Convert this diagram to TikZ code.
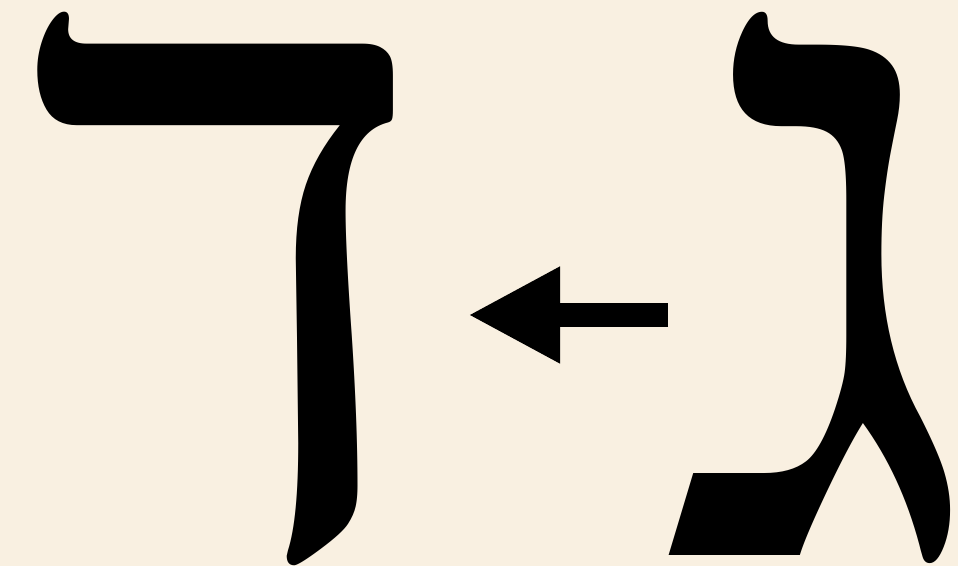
\documentclass[tikz,border=0pt]{standalone}
\usepackage{fontspec}
\usepackage{graphicx}
\newfontfamily\hebfont[Script=Hebrew]{Liberation Serif}
\TeXXeTstate=1
\usetikzlibrary{arrows.meta}
\definecolor{parchment}{HTML}{F9F0E1}
\tikzset{
  letter/.style={inner sep=0pt, outer sep=0pt, text=black},
  bigarrow/.style={line width=0.24cm, -{Triangle[length=0.92cm,width=0.9cm]}}
}
\begin{document}
\begin{tikzpicture}
\fill[parchment] (0,0) rectangle (9.58,5.66);
\useasboundingbox (0,0) rectangle (9.58,5.66);
\node[letter, anchor=north west] (dalet) at (0.28,5.54)
  {\resizebox{4.05cm}{5.42cm}{\hebfont\beginR ד\endR}};
\node[letter, anchor=north west] (gimel) at (6.61,5.54)
  {\resizebox{3.2cm}{5.42cm}{\hebfont\beginR ג\endR}};
\coordinate (tail) at (6.68,2.51);
\coordinate (tip) at (4.68,2.51);
\draw[bigarrow] (tail) -- (tip);
\end{tikzpicture}
\end{document}
